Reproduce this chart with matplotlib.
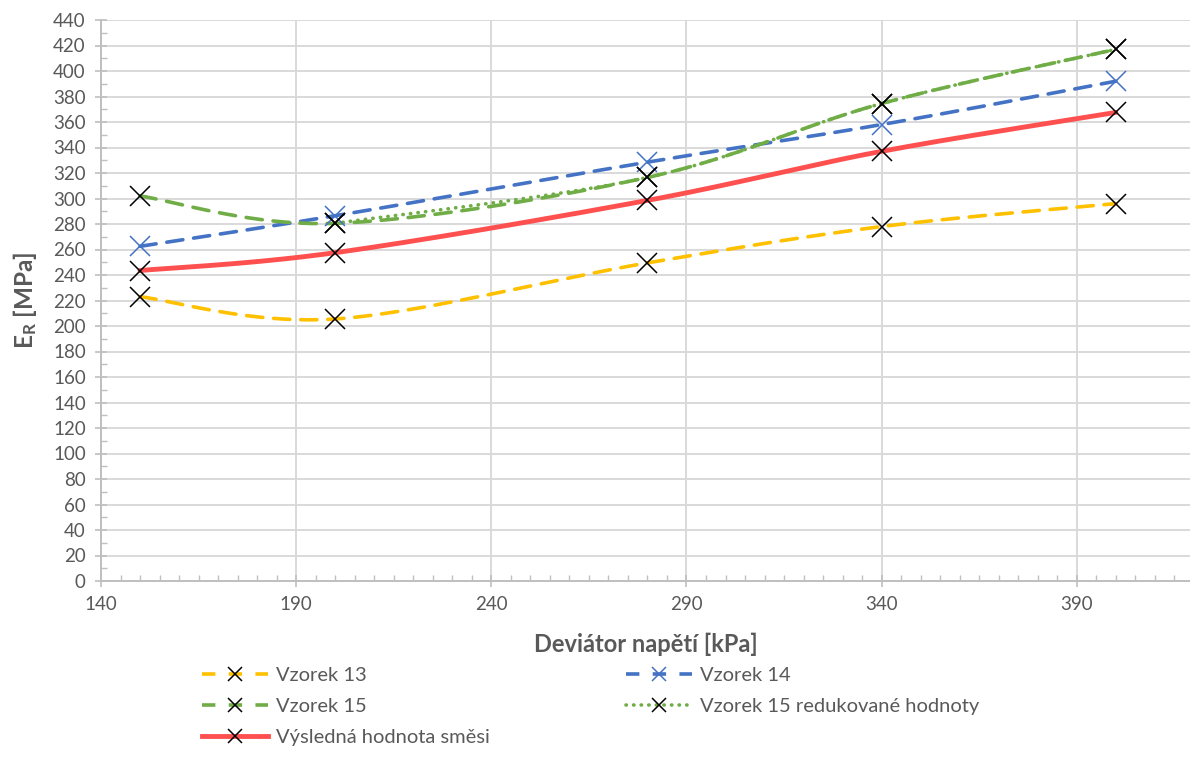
import numpy as np
import matplotlib
matplotlib.use("Agg")
import matplotlib.pyplot as plt
from matplotlib.lines import Line2D
from matplotlib.ticker import MultipleLocator, FixedLocator

plt.rcParams['font.family'] = ['Lato', 'DejaVu Sans']
plt.rcParams['mathtext.fontset'] = 'custom'
plt.rcParams['mathtext.rm'] = 'Lato'
plt.rcParams['mathtext.bf'] = 'Lato:bold'

# ---- data ----
x_all = [150, 200, 280, 340, 400]
x_red15 = [200, 280, 340, 400]
vz13 = [223, 205.5, 249.5, 278, 296]
vz14 = [262.5, 286.5, 328.5, 358, 392]
vz15 = [302, 280.5, 316.5, 374.5, 417]
vz15_red = [280.5, 316.5, 374.5, 417]
smes = [243.5, 257.5, 298.5, 337, 367.5]

labels = ["Vzorek 13", "Vzorek 14", "Vzorek 15", "Vzorek 15 redukované hodnoty",
          "Výsledná hodnota směsi"]
x_ticks = [140, 190, 240, 290, 340, 390]
y_ticks = list(range(0, 441, 20))

C13 = "#FFC000"
C14 = "#4472C4"
C15 = "#70AD47"
CRED = "#FF5050"
GRID = "#D9D9D9"
TXT = "#595959"


def smooth(xs, ys, n=40):
    """Excel-like smoothed line (Catmull-Rom Bezier)."""
    P = np.column_stack([xs, ys]).astype(float)
    m = len(P)
    out = []
    for i in range(m - 1):
        p0 = P[i - 1] if i > 0 else P[i]
        p1 = P[i]
        p2 = P[i + 1]
        p3 = P[i + 2] if i + 2 < m else P[i + 1]
        c1 = p1 + (p2 - p0) / 6.0
        c2 = p2 - (p3 - p1) / 6.0
        t = np.linspace(0, 1, n)[:, None]
        seg = ((1 - t) ** 3) * p1 + 3 * ((1 - t) ** 2) * t * c1 + 3 * (1 - t) * t ** 2 * c2 + t ** 3 * p2
        out.append(seg if i == 0 else seg[1:])
    out = np.vstack(out)
    return out[:, 0], out[:, 1]


fig = plt.figure(figsize=(11.9, 7.58), dpi=100)
ax = fig.add_axes([101 / 1190, 1 - 581 / 758, (1190 - 101) / 1190, (581 - 20) / 758])

ax.set_xlim(140, 419)
ax.set_ylim(0, 440)

ax.xaxis.set_major_locator(FixedLocator(x_ticks))
ax.xaxis.set_minor_locator(MultipleLocator(5))
ax.yaxis.set_major_locator(FixedLocator(y_ticks))
ax.yaxis.set_minor_locator(MultipleLocator(10))
ax.grid(True, which='major', color=GRID, lw=1.4, zorder=0)
ax.set_axisbelow(True)
for s in ['top', 'right']:
    ax.spines[s].set_visible(False)
for s in ['left', 'bottom']:
    ax.spines[s].set_color("#BFBFBF")
    ax.spines[s].set_linewidth(1.4)
ax.tick_params(which='major', direction='inout', length=8, width=1.2, color="#BFBFBF",
               labelcolor=TXT, labelsize=13.5, pad=7)
ax.tick_params(which='minor', direction='in', length=4, width=1.0, color="#BFBFBF")

ax.set_xlabel("Deviátor napětí [kPa]", fontsize=17, fontweight='bold', color=TXT, labelpad=14)
ax.set_ylabel(r"$\mathbf{E_R}$ [MPa]", fontsize=17.5, fontweight='bold', color=TXT, labelpad=10)

LW = 2.6
dash = (4.5, 3.0)
dot = (0.1, 2.0)
mk = dict(marker='x', markersize=14, markeredgewidth=1.1)

# lines
sx, sy = smooth(x_all, vz13)
ax.plot(sx, sy, color=C13, lw=LW, dashes=dash, dash_capstyle='round', zorder=3)
ax.plot(x_all, vz13, ls='none', color='black', **mk, zorder=5)

sx, sy = smooth(x_all, vz14)
ax.plot(sx, sy, color=C14, lw=LW, dashes=dash, dash_capstyle='round', zorder=3)
ax.plot(x_all, vz14, ls='none', color=C14, **mk, zorder=5)

sx, sy = smooth(x_all, vz15)
ax.plot(sx, sy, color=C15, lw=LW, dashes=dash, dash_capstyle='round', zorder=3)
ax.plot(x_all, vz15, ls='none', color='black', **mk, zorder=5)

sx, sy = smooth(x_red15, vz15_red)
ax.plot(sx, sy, color=C15, lw=LW, dashes=dot, dash_capstyle='round', zorder=3)
ax.plot(x_red15, vz15_red, ls='none', color='black', **mk, zorder=5)

sx, sy = smooth(x_all, smes)
ax.plot(sx, sy, color=CRED, lw=3.5, solid_capstyle='round', zorder=4)
ax.plot(x_all, smes, ls='none', color='black', **mk, zorder=5)

# legend handles
lmk = dict(marker='x', markersize=9.5, markeredgewidth=1.1)
ldash = (3.7, 3.7)
h13 = Line2D([], [], color=C13, lw=LW, dashes=ldash, markeredgecolor='black', **lmk)
h14 = Line2D([], [], color=C14, lw=LW, dashes=ldash, markeredgecolor=C14, **lmk)
h15 = Line2D([], [], color=C15, lw=LW, dashes=ldash, markeredgecolor='black', **lmk)
h15r = Line2D([], [], color=C15, lw=LW, dashes=dot, dash_capstyle='round', markeredgecolor='black', **lmk)
hred = Line2D([], [], color=CRED, lw=3.5, markeredgecolor='black', **lmk)

common = dict(frameon=False, fontsize=14.5, labelcolor=TXT, handlelength=3.3,
              handletextpad=0.35, borderpad=0, borderaxespad=0, labelspacing=0.7)
fig.legend([h13, h15, hred], [labels[0], labels[2], labels[4]], loc='upper left',
           bbox_to_anchor=(202 / 1190, 1 - 667 / 758), **common)
fig.legend([h14, h15r], [labels[1], labels[3]], loc='upper left',
           bbox_to_anchor=(626 / 1190, 1 - 667 / 758), **common)

fig.savefig("out.png", dpi=100)
